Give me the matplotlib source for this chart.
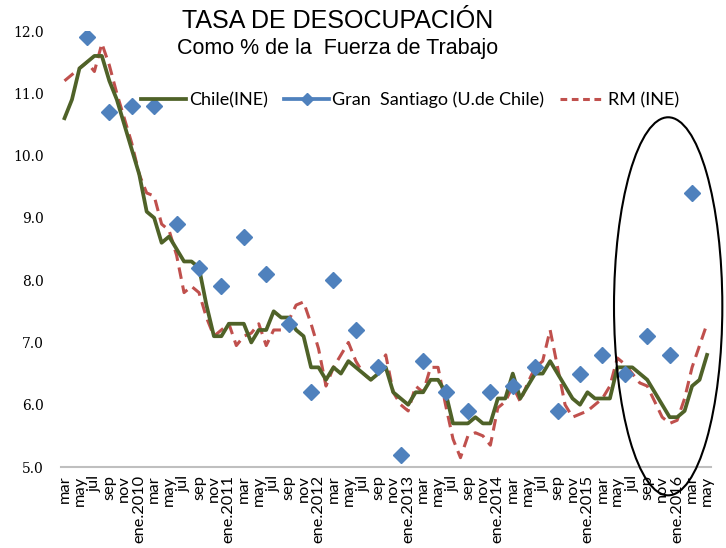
import numpy as np
import matplotlib
matplotlib.use("Agg")
import matplotlib.pyplot as plt
from matplotlib.lines import Line2D
from matplotlib.patches import Ellipse

# monthly series, mar 2009 .. may 2016
chile = [10.6, 10.9, 11.4, 11.5, 11.6, 11.6, 11.2, 10.9, 10.5, 10.1,
         9.7, 9.1, 9.0, 8.6, 8.7, 8.5, 8.3, 8.3, 8.2, 7.6,
         7.1, 7.1, 7.3, 7.3, 7.3, 7.0, 7.2, 7.2, 7.5, 7.4,
         7.4, 7.2, 7.1, 6.6, 6.6, 6.4, 6.6, 6.5, 6.7, 6.6,
         6.5, 6.4, 6.5, 6.6, 6.2, 6.1, 6.0, 6.2, 6.2, 6.4,
         6.4, 6.2, 5.7, 5.7, 5.7, 5.8, 5.7, 5.7, 6.1, 6.1,
         6.5, 6.1, 6.3, 6.5, 6.5, 6.7, 6.5, 6.3, 6.1, 6.0,
         6.2, 6.1, 6.1, 6.1, 6.6, 6.6, 6.6, 6.5, 6.4, 6.2,
         6.0, 5.8, 5.8, 5.9, 6.3, 6.4, 6.8]

rm = [11.2, 11.3, 11.4, 11.5, 11.35, 11.8, 11.45, 11.0, 10.6, 10.2,
      9.7, 9.4, 9.35, 8.9, 8.8, 8.4, 7.8, 7.9, 7.8, 7.4,
      7.1, 7.2, 7.3, 6.95, 7.1, 7.15, 7.3, 6.95, 7.2, 7.2,
      7.35, 7.6, 7.65, 7.3, 6.9, 6.3, 6.6, 6.8, 7.0, 6.7,
      6.5, 6.4, 6.6, 6.8, 6.2, 6.0, 5.9, 6.3, 6.2, 6.6,
      6.6, 6.0, 5.45, 5.15, 5.5, 5.55, 5.5, 5.35, 5.95, 6.05,
      6.3, 6.05, 6.35, 6.6, 6.7, 7.2, 6.6, 6.0, 5.8, 5.85,
      5.9, 6.0, 6.1, 6.3, 6.75, 6.65, 6.5, 6.35, 6.3, 6.05,
      5.8, 5.7, 5.75, 6.1, 6.6, 6.95, 7.3]

# quarterly survey (jun, sep, dic, mar)
gran_santiago = [11.9, 10.7, 10.8, 10.8, 8.9, 8.2, 7.9, 8.7, 8.1, 7.3,
                 6.2, 8.0, 7.2, 6.6, 5.2, 6.7, 6.2, 5.9, 6.2, 6.3,
                 6.6, 5.9, 6.5, 6.8, 6.5, 7.1, 6.8, 9.4]

x_labels = ["mar", "may", "jul", "sep", "nov",
            "ene.2010", "mar", "may", "jul", "sep", "nov",
            "ene.2011", "mar", "may", "jul", "sep", "nov",
            "ene.2012", "mar", "may", "jul", "sep", "nov",
            "ene.2013", "mar", "may", "jul", "sep", "nov",
            "ene.2014", "mar", "may", "jul", "sep", "nov",
            "ene.2015", "mar", "may", "jul", "sep", "nov",
            "ene.2016", "mar", "may"]

months = np.arange(len(chile))
gs_months = np.arange(3, len(chile), 3)

green = "#4f6228"
blue = "#4f81bd"
red = "#c0504d"

fig = plt.figure(figsize=(7.26, 5.48), dpi=100)
ax = fig.add_axes([0.0837, 0.1478, 0.8953, 0.7956])

ax.plot(months, chile, color=green, lw=2.7, zorder=3)
ax.plot(months, rm, color=red, lw=2.2, dashes=(3.8, 2.2), zorder=2)
ax.plot(gs_months, gran_santiago, ls="none", marker="D", ms=8.5,
        color=blue, zorder=4)

ax.set_xlim(-0.5, len(chile) - 0.5)
ax.set_ylim(5, 12)
ax.set_yticks(np.arange(5, 12.5, 1))
ax.set_yticklabels([f"{v:.1f}" for v in np.arange(5, 12.5, 1)],
                   family="DejaVu Serif", fontsize=10)
ax.set_xticks(months[::2])
ax.set_xticklabels(x_labels, rotation=90, family="Lato", fontsize=11.8,
                   va="top", ha="center")
ax.tick_params(axis="both", length=0)
ax.tick_params(axis="y", pad=12)
ax.tick_params(axis="x", pad=6)

for s in ["top", "right", "left"]:
    ax.spines[s].set_visible(False)
ax.spines["bottom"].set_color("#bfbfbf")
ax.spines["bottom"].set_linewidth(1.5)

# highlight of the last months
ax.add_patch(Ellipse((80.8, 7.58), 14.5, 6.07, fill=False, ec="black",
                     lw=1.5, clip_on=False, zorder=5))

handles = [Line2D([], [], color=green, lw=2.7),
           Line2D([], [], color=blue, lw=2.7, marker="D", ms=6),
           Line2D([], [], color=red, lw=2.2, dashes=(2.2, 1.5))]
names = ["Chile(INE)", "Gran  Santiago (U.de Chile)", "RM (INE)"]
fig.legend(handles, names, loc="center", bbox_to_anchor=(0.565, 0.8175),
           ncol=3, frameon=False, handlelength=2.5, handletextpad=0.15,
           columnspacing=0.9, prop={"family": "Lato", "size": 13})

fig.text(0.465, 0.962, "TASA DE DESOCUPACIÓN", ha="center", va="center",
         family="Liberation Sans", fontsize=18)
fig.text(0.465, 0.911, "Como % de la  Fuerza de Trabajo", ha="center",
         va="center", family="Liberation Sans", fontsize=15.5)

fig.savefig("out.png", dpi=100)
